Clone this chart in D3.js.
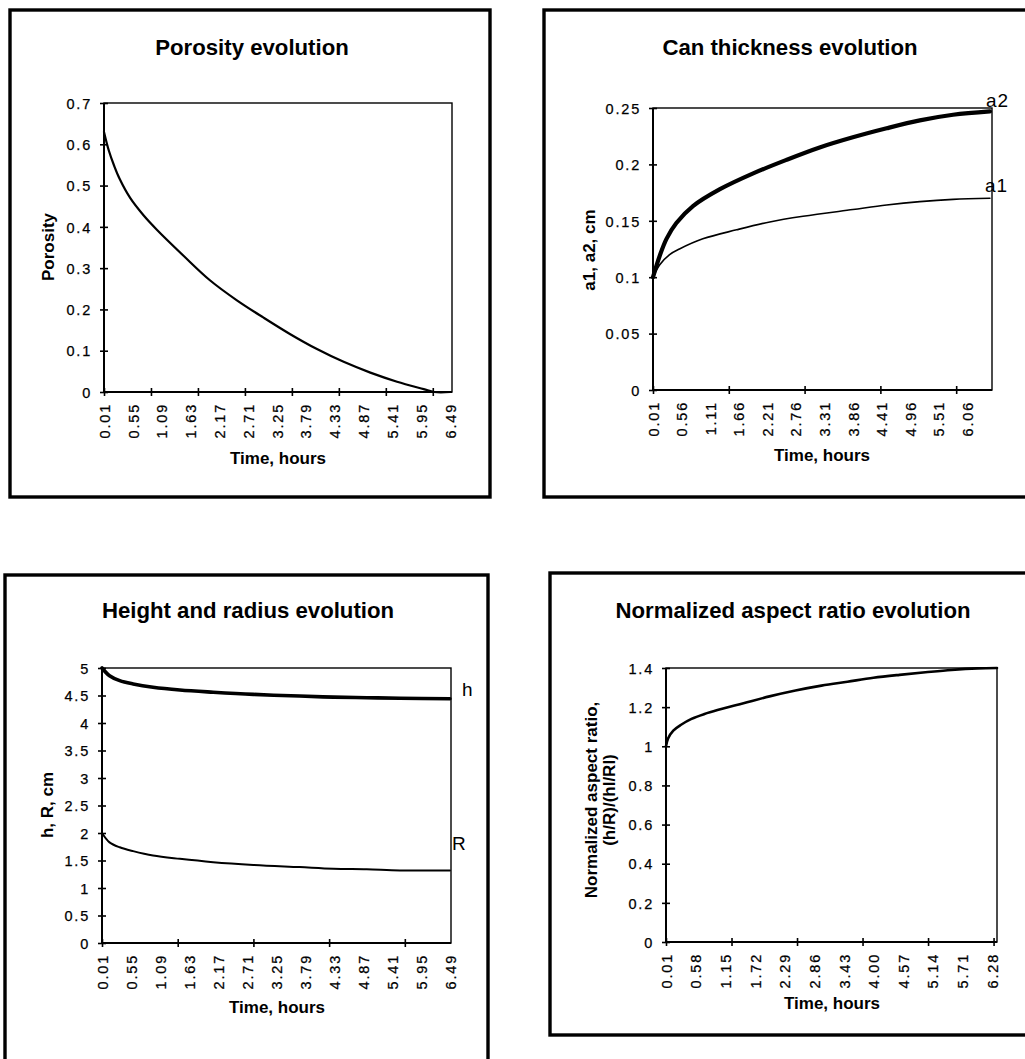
<!DOCTYPE html>
<html>
<head>
<meta charset="utf-8">
<script src="https://cdn.jsdelivr.net/npm/d3@7"></script>
<style>
  html, body { margin: 0; padding: 0; background: #fff; }
  svg { display: block; }
  text { font-family: "Liberation Sans", Arial, Helvetica, sans-serif; fill: #000; }
  .title { font-size: 22.2px; font-weight: bold; }
  .axis-title { font-size: 17px; font-weight: bold; }
  .tick-label { font-size: 14.5px; letter-spacing: 1.8px; stroke: #000; stroke-width: 0.25px; }
  .series-label { font-size: 19px; }
</style>
</head>
<body>
<svg id="chart" width="1025" height="1059"></svg>
<script>
// ---- Porosity evolution ----
const porosityTime   = [0.01, 0.10, 0.20, 0.30, 0.50, 0.75, 1.00, 1.50, 2.00, 2.50, 3.00, 3.50, 4.00, 4.50, 5.00, 5.50, 6.00, 6.20, 6.50];
const porosityValues = [0.630, 0.585, 0.548, 0.517, 0.470, 0.428, 0.393, 0.330, 0.270, 0.222, 0.180, 0.140, 0.104, 0.073, 0.047, 0.025, 0.007, 0.000, 0.000];
const porosityXTickLabels = ["0.01","0.55","1.09","1.63","2.17","2.71","3.25","3.79","4.33","4.87","5.41","5.95","6.49"];
const porosityXTickMarks  = [0.01, 0.89, 1.77, 2.65, 3.53, 4.41, 5.29, 6.17];
const porosityYTicks      = [0, 0.1, 0.2, 0.3, 0.4, 0.5, 0.6, 0.7];
const porosityXDomain     = [0.01, 6.53];
const porosityYDomain     = [0, 0.7];

// ---- Can thickness evolution ----
const a2Time   = [0.01, 0.14, 0.27, 0.46, 0.78, 1.30, 1.94, 2.58, 3.22, 3.86, 4.51, 5.15, 5.79, 6.50];
const a2Values = [0.100, 0.119, 0.134, 0.148, 0.163, 0.178, 0.192, 0.204, 0.215, 0.224, 0.232, 0.239, 0.244, 0.247];
const a1Time   = [0.01, 0.14, 0.33, 0.52, 0.97, 1.62, 2.26, 2.90, 3.86, 4.51, 5.15, 5.79, 6.50];
const a1Values = [0.100, 0.111, 0.120, 0.125, 0.134, 0.142, 0.149, 0.154, 0.160, 0.164, 0.167, 0.169, 0.170];
const canXTickLabels = ["0.01","0.56","1.11","1.66","2.21","2.76","3.31","3.86","4.41","4.96","5.51","6.06"];
const canXTickMarks  = [0.01, 1.47, 2.93, 4.39, 5.85];
const canYTicks      = [0, 0.05, 0.1, 0.15, 0.2, 0.25];
const canXDomain     = [0.01, 6.54];
const canYDomain     = [0, 0.25];

// ---- Height and radius evolution ----
const hrTime  = [0.01, 0.15, 0.34, 0.59, 0.96, 1.46, 2.08, 2.83, 3.69, 4.32, 4.94, 5.56, 6.49];
const hValues = [5.00, 4.86, 4.77, 4.71, 4.65, 4.60, 4.56, 4.52, 4.49, 4.47, 4.46, 4.45, 4.44];
const rValues = [2.00, 1.83, 1.74, 1.67, 1.59, 1.53, 1.47, 1.42, 1.38, 1.35, 1.34, 1.32, 1.32];
const hrXTickLabels = ["0.01","0.55","1.09","1.63","2.17","2.71","3.25","3.79","4.33","4.87","5.41","5.95","6.49"];
const hrXTickMarks  = [0.01, 1.42, 2.83, 4.24, 5.65];
const hrYTicks      = [0, 0.5, 1, 1.5, 2, 2.5, 3, 3.5, 4, 4.5, 5];
const hrXDomain     = [0.01, 6.51];
const hrYDomain     = [0, 5];

// ---- Normalized aspect ratio evolution ----
const aspectTime   = [0.01, 0.05, 0.15, 0.30, 0.50, 0.75, 1.00, 1.50, 2.00, 2.50, 3.00, 3.50, 4.00, 4.50, 5.00, 5.50, 6.00, 6.376];
const aspectValues = [1.000, 1.040, 1.080, 1.110, 1.140, 1.165, 1.185, 1.220, 1.255, 1.285, 1.310, 1.330, 1.350, 1.365, 1.378, 1.390, 1.398, 1.400];
const aspectXTickLabels = ["0.01","0.58","1.15","1.72","2.29","2.86","3.43","4.00","4.57","5.14","5.71","6.28"];
const aspectXTickMarks  = [0.01, 1.27, 2.53, 3.79, 5.05, 6.31];
const aspectYTicks      = [0, 0.2, 0.4, 0.6, 0.8, 1, 1.2, 1.4];
const aspectXDomain     = [0.01, 6.376];
const aspectYDomain     = [0, 1.4];

const svg = d3.select("#chart");

// outer frames around each chart
const frames = [
  { x: 10,  y: 10,  w: 480, h: 487 },
  { x: 544, y: 10,  w: 490, h: 487 },
  { x: 5,   y: 575, w: 483, h: 495 },
  { x: 550, y: 573, w: 490, h: 462 }
];
svg.selectAll("rect.frame").data(frames).join("rect")
  .attr("class", "frame")
  .attr("x", d => d.x).attr("y", d => d.y)
  .attr("width", d => d.w).attr("height", d => d.h)
  .attr("fill", "none").attr("stroke", "#000").attr("stroke-width", 3.4);

function drawPanel(cfg) {
  const g = svg.append("g");
  const x = d3.scaleLinear().domain(cfg.xDomain).range([cfg.left, cfg.right]);
  const y = d3.scaleLinear().domain(cfg.yDomain).range([cfg.bottom, cfg.top]);

  // plot area box
  g.append("rect")
    .attr("x", cfg.left).attr("y", cfg.top)
    .attr("width", cfg.right - cfg.left).attr("height", cfg.bottom - cfg.top)
    .attr("fill", "none").attr("stroke", "#000").attr("stroke-width", 1.4);

  // x tick labels (rotated)
  const xLab = g.append("g")
    .attr("transform", `translate(0,${cfg.bottom})`)
    .call(d3.axisBottom(x)
      .tickValues(cfg.xLabels.map(Number))
      .tickFormat((d, i) => cfg.xLabels[i])
      .tickSize(0));
  xLab.select(".domain").remove();
  xLab.selectAll("text")
    .attr("class", "tick-label")
    .attr("transform", "rotate(-90)")
    .attr("text-anchor", "end")
    .attr("x", -11).attr("y", 0).attr("dy", "0.36em");

  // x tick marks crossing the axis
  const xMarks = g.append("g")
    .attr("transform", `translate(0,${cfg.bottom})`)
    .call(d3.axisBottom(x).tickValues(cfg.xMarks).tickFormat("").tickSizeOuter(0));
  xMarks.select(".domain").attr("stroke-width", 2).attr("d", `M${cfg.left},0H${cfg.right}`);
  xMarks.selectAll(".tick line").attr("y1", -4).attr("y2", 4).attr("stroke-width", 1.6);

  // y axis with crossing ticks
  const yAx = g.append("g")
    .attr("transform", `translate(${cfg.left},0)`)
    .call(d3.axisLeft(y).tickValues(cfg.yTicks).tickFormat(d3.format("~g")).tickSizeOuter(0));
  yAx.select(".domain").attr("stroke-width", 2).attr("d", `M0,${cfg.top}V${cfg.bottom}`);
  yAx.selectAll(".tick line").attr("x1", -4).attr("x2", 4).attr("stroke-width", 1.6);
  yAx.selectAll(".tick text")
    .attr("class", "tick-label")
    .attr("x", -12).attr("dy", "0.36em");
  g.selectAll(".tick text").attr("font-family", null).attr("font-size", null).attr("fill", "#000");

  // series
  cfg.series.forEach(s => {
    const pts = s.t.map((t, i) => [t, s.v[i]]);
    g.append("path")
      .datum(pts)
      .attr("fill", "none").attr("stroke", "#000")
      .attr("stroke-width", s.width)
      .attr("stroke-linejoin", "round").attr("stroke-linecap", "round")
      .attr("d", d3.line().x(d => x(d[0])).y(d => y(d[1])).curve(d3.curveCatmullRom.alpha(0.5)));
    if (s.label) {
      const last = pts[pts.length - 1];
      g.append("text").attr("class", "series-label")
        .attr("font-size", s.labelSize || 19)
        .attr("letter-spacing", s.spacing || 0)
        .attr("x", x(last[0]) + s.dx).attr("y", y(last[1]) + s.dy)
        .text(s.label);
    }
  });

  // titles
  g.append("text").attr("class", "title").attr("text-anchor", "middle")
    .attr("x", cfg.titleX).attr("y", cfg.titleY).text(cfg.title);
  g.append("text").attr("class", "axis-title").attr("text-anchor", "middle")
    .attr("x", cfg.xTitleX).attr("y", cfg.xTitleY).text("Time, hours");
  cfg.yTitle.forEach((line, i) => {
    g.append("text").attr("class", "axis-title").attr("text-anchor", "middle")
      .attr("transform", `translate(${cfg.yTitleX + i * 18},${cfg.yTitleY}) rotate(-90)`)
      .text(line);
  });
}

drawPanel({
  left: 104, right: 452, top: 103, bottom: 392,
  xDomain: porosityXDomain, yDomain: porosityYDomain,
  xLabels: porosityXTickLabels, xMarks: porosityXTickMarks, yTicks: porosityYTicks,
  series: [{ t: porosityTime, v: porosityValues, width: 2.2 }],
  title: "Porosity evolution", titleX: 252, titleY: 55,
  xTitleX: 278, xTitleY: 464,
  yTitle: ["Porosity"], yTitleX: 54, yTitleY: 247
});

drawPanel({
  left: 653, right: 992, top: 108, bottom: 390,
  xDomain: canXDomain, yDomain: canYDomain,
  xLabels: canXTickLabels, xMarks: canXTickMarks, yTicks: canYTicks,
  series: [
    { t: a2Time, v: a2Values, width: 4.2, label: "a2", dx: -4, dy: -4, spacing: 1 },
    { t: a1Time, v: a1Values, width: 1.6, label: "a1", dx: -5, dy: -6, spacing: 1 }
  ],
  title: "Can thickness evolution", titleX: 790, titleY: 55,
  xTitleX: 822, xTitleY: 461,
  yTitle: ["a1, a2, cm"], yTitleX: 595, yTitleY: 250
});

drawPanel({
  left: 102, right: 451, top: 668, bottom: 943,
  xDomain: hrXDomain, yDomain: hrYDomain,
  xLabels: hrXTickLabels, xMarks: hrXTickMarks, yTicks: hrYTicks,
  series: [
    { t: hrTime, v: hValues, width: 3.6, label: "h", dx: 12, dy: -3, labelSize: 20 },
    { t: hrTime, v: rValues, width: 2.0, label: "R", dx: 2, dy: -20, labelSize: 19 }
  ],
  title: "Height and radius evolution", titleX: 248, titleY: 618,
  xTitleX: 277, xTitleY: 1013,
  yTitle: ["h, R, cm"], yTitleX: 53, yTitleY: 805
});

drawPanel({
  left: 666, right: 997, top: 668, bottom: 942,
  xDomain: aspectXDomain, yDomain: aspectYDomain,
  xLabels: aspectXTickLabels, xMarks: aspectXTickMarks, yTicks: aspectYTicks,
  series: [{ t: aspectTime, v: aspectValues, width: 2.6 }],
  title: "Normalized aspect ratio evolution", titleX: 793, titleY: 618,
  xTitleX: 832, xTitleY: 1009,
  yTitle: ["Normalized aspect ratio,", "(h/R)/(hI/RI)"], yTitleX: 597, yTitleY: 800
});
</script>
</body>
</html>
